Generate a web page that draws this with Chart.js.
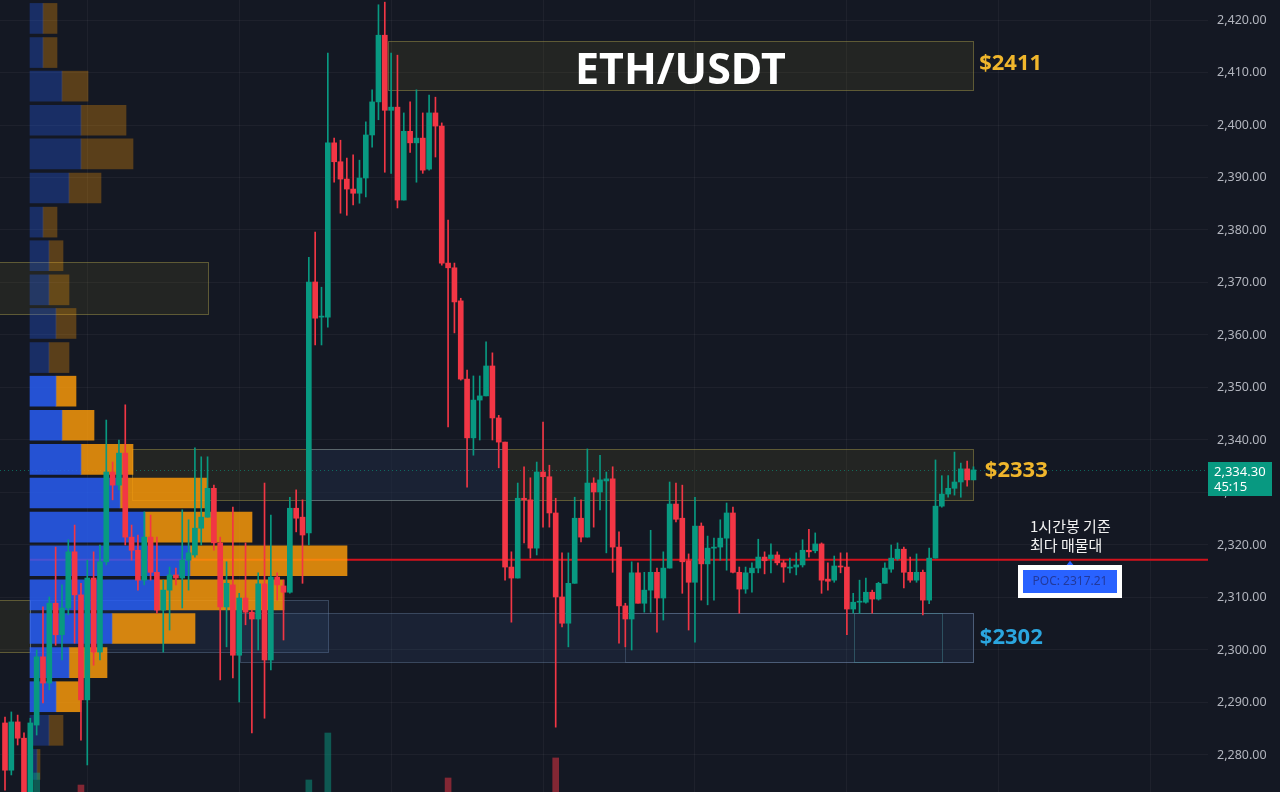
<!DOCTYPE html>
<html>
<head>
<meta charset="utf-8">
<script src="https://cdn.jsdelivr.net/npm/chart.js@4.4.1/dist/chart.umd.min.js"></script>
<style>
  html, body { margin: 0; padding: 0; background: #141823; overflow: hidden; }
  canvas { display: block; }
</style>
</head>
<body>
<canvas id="ethChart" width="1280" height="792"></canvas>
<script>
// 1h candles, ETH/USDT
const opens = [
  2286.1, 2277.1, 2286.3, 2283.2, 2271.8, 2285.7, 2298.7, 2293.7, 2308.9, 2302.9,
  2308.0, 2318.7, 2310.5, 2290.5, 2313.7, 2299.6, 2316.8, 2333.9, 2331.4, 2337.5,
  2321.5, 2319.0, 2313.3, 2321.5, 2314.8, 2307.6, 2311.4, 2314.3, 2313.7, 2317.1,
  2318.1, 2323.2, 2325.3, 2330.8, 2320.4, 2308.2, 2312.4, 2299.0, 2309.9, 2307.2,
  2305.9, 2312.6, 2298.1, 2313.9, 2312.2, 2311.0, 2327.0, 2325.3, 2322.3, 2370.1,
  2363.4, 2363.4, 2396.6, 2393.0, 2389.7, 2387.8, 2387.0, 2389.9, 2398.1, 2404.4,
  2417.1, 2402.8, 2403.4, 2385.7, 2398.8, 2396.6, 2397.5, 2391.6, 2402.3, 2399.8,
  2373.7, 2372.8, 2366.5, 2351.6, 2340.4, 2347.6, 2348.4, 2354.1, 2344.2, 2339.6,
  2315.8, 2313.7, 2328.9, 2328.6, 2319.4, 2333.9, 2333.0, 2326.1, 2310.1, 2305.1,
  2312.7, 2325.1, 2321.5, 2331.8, 2330.1, 2332.2, 2332.6, 2319.6, 2308.4, 2305.9,
  2314.7, 2308.9, 2311.4, 2314.8, 2309.9, 2315.6, 2327.8, 2325.1, 2317.0, 2312.9,
  2323.6, 2316.4, 2319.4, 2319.6, 2321.3, 2326.1, 2314.8, 2311.6, 2314.7, 2315.6,
  2317.7, 2317.4, 2318.1, 2316.6, 2315.6, 2315.8, 2316.2, 2319.0, 2318.9, 2320.2,
  2313.5, 2313.3, 2316.0, 2315.8, 2307.8, 2309.1, 2309.1, 2311.0, 2309.7, 2312.7,
  2315.4, 2317.4, 2319.2, 2314.8, 2313.3, 2314.8, 2309.5, 2317.5, 2327.4, 2329.7,
  2330.8, 2332.0, 2334.5, 2332.4
];
const highs = [
  2287.2, 2288.2, 2287.6, 2284.2, 2287.0, 2300.0, 2308.2, 2310.1, 2319.6, 2312.4,
  2321.0, 2323.8, 2312.7, 2317.1, 2318.7, 2320.0, 2343.8, 2335.8, 2340.0, 2346.7,
  2323.8, 2321.9, 2326.3, 2325.7, 2321.5, 2313.3, 2315.8, 2315.6, 2326.7, 2324.8,
  2338.5, 2336.8, 2336.8, 2331.4, 2321.5, 2316.8, 2327.2, 2310.8, 2320.4, 2307.6,
  2314.7, 2331.8, 2325.7, 2314.7, 2313.3, 2329.1, 2330.5, 2328.6, 2374.8, 2379.6,
  2369.1, 2413.7, 2397.5, 2397.1, 2393.7, 2394.3, 2393.3, 2400.6, 2406.7, 2422.9,
  2423.4, 2413.7, 2413.3, 2402.3, 2404.4, 2406.7, 2402.3, 2405.7, 2405.3, 2400.4,
  2381.9, 2373.7, 2367.0, 2353.3, 2352.2, 2352.2, 2358.7, 2356.6, 2344.7, 2339.6,
  2318.7, 2331.8, 2334.9, 2332.8, 2335.8, 2343.4, 2335.2, 2328.9, 2318.5, 2318.5,
  2329.1, 2328.6, 2338.3, 2332.8, 2337.1, 2333.9, 2334.9, 2322.5, 2308.9, 2316.8,
  2316.6, 2314.8, 2322.8, 2315.6, 2318.7, 2332.0, 2331.8, 2331.4, 2318.3, 2329.1,
  2324.2, 2321.7, 2321.3, 2324.8, 2328.0, 2327.2, 2315.8, 2315.8, 2316.6, 2321.1,
  2318.7, 2320.2, 2318.7, 2317.1, 2317.5, 2318.5, 2321.0, 2323.0, 2322.3, 2320.4,
  2316.6, 2317.9, 2318.5, 2318.5, 2310.8, 2313.3, 2313.7, 2311.4, 2312.9, 2316.6,
  2320.0, 2320.4, 2319.6, 2317.7, 2318.3, 2315.2, 2319.4, 2336.2, 2333.2, 2333.2,
  2337.7, 2335.6, 2336.0, 2334.9
];
const lows = [
  2273.3, 2276.2, 2281.9, 2270.5, 2270.5, 2283.8, 2289.9, 2292.4, 2300.9, 2298.1,
  2306.7, 2301.3, 2282.8, 2278.1, 2297.1, 2298.1, 2316.2, 2328.6, 2330.5, 2320.0,
  2317.1, 2311.4, 2312.4, 2313.3, 2307.0, 2299.6, 2303.8, 2312.4, 2308.0, 2311.4,
  2317.7, 2320.0, 2325.3, 2319.0, 2294.3, 2300.6, 2294.7, 2290.1, 2304.8, 2284.2,
  2300.0, 2287.0, 2296.2, 2309.5, 2301.9, 2310.8, 2322.5, 2312.7, 2320.0, 2358.1,
  2358.1, 2361.5, 2389.1, 2383.2, 2382.8, 2384.8, 2385.1, 2386.3, 2395.8, 2401.0,
  2391.0, 2390.8, 2384.2, 2385.7, 2394.8, 2389.1, 2390.8, 2391.4, 2393.9, 2373.3,
  2342.5, 2360.4, 2351.4, 2331.0, 2337.1, 2340.0, 2348.4, 2340.0, 2334.7, 2313.3,
  2305.3, 2313.7, 2320.4, 2317.5, 2318.1, 2323.4, 2323.4, 2285.3, 2304.4, 2300.6,
  2312.7, 2320.6, 2321.5, 2323.4, 2326.7, 2318.5, 2314.8, 2301.3, 2300.6, 2300.0,
  2308.9, 2307.2, 2307.2, 2303.4, 2305.7, 2315.6, 2324.4, 2310.8, 2303.8, 2301.5,
  2309.5, 2308.6, 2309.5, 2317.1, 2315.2, 2314.7, 2307.0, 2310.8, 2311.0, 2314.7,
  2314.5, 2314.7, 2316.2, 2312.9, 2314.7, 2314.3, 2315.8, 2317.7, 2318.5, 2310.8,
  2311.4, 2312.9, 2314.7, 2302.9, 2307.0, 2307.0, 2308.9, 2307.0, 2309.5, 2312.7,
  2314.8, 2317.1, 2311.8, 2312.9, 2312.9, 2306.7, 2308.8, 2317.5, 2327.2, 2329.1,
  2329.5, 2329.1, 2331.2, 2332.4
];
const closes = [
  2277.1, 2286.3, 2283.2, 2271.8, 2286.1, 2298.7, 2293.7, 2308.9, 2302.9, 2308.0,
  2318.7, 2310.5, 2290.5, 2313.7, 2299.6, 2316.8, 2333.9, 2331.4, 2337.5, 2321.5,
  2319.0, 2313.3, 2321.5, 2314.8, 2307.6, 2311.4, 2314.3, 2313.7, 2317.1, 2318.5,
  2323.2, 2325.3, 2330.8, 2320.4, 2308.2, 2312.7, 2299.0, 2309.9, 2307.2, 2305.9,
  2312.6, 2298.1, 2313.9, 2312.4, 2311.0, 2327.0, 2325.1, 2321.9, 2370.1, 2363.2,
  2363.6, 2396.6, 2393.0, 2389.7, 2387.8, 2387.0, 2389.9, 2398.1, 2404.4, 2417.1,
  2402.8, 2403.4, 2385.7, 2398.8, 2396.6, 2397.5, 2391.4, 2402.3, 2399.8, 2373.7,
  2372.8, 2366.3, 2351.6, 2340.4, 2347.6, 2348.4, 2354.1, 2344.2, 2339.6, 2315.8,
  2313.7, 2328.9, 2328.6, 2319.4, 2333.9, 2333.0, 2326.1, 2310.1, 2305.1, 2312.7,
  2325.1, 2321.5, 2331.8, 2330.1, 2332.4, 2332.6, 2319.6, 2308.4, 2305.9, 2314.7,
  2308.9, 2311.4, 2314.8, 2309.9, 2315.6, 2327.8, 2324.9, 2316.8, 2312.9, 2323.6,
  2316.4, 2319.4, 2319.6, 2321.3, 2326.1, 2314.8, 2311.6, 2314.7, 2315.6, 2317.7,
  2317.0, 2318.1, 2316.6, 2315.8, 2315.8, 2316.2, 2319.0, 2318.7, 2320.2, 2313.3,
  2313.1, 2316.0, 2315.8, 2307.8, 2309.1, 2309.3, 2311.0, 2309.7, 2312.7, 2315.6,
  2317.5, 2319.2, 2314.8, 2313.3, 2314.8, 2309.5, 2317.5, 2327.4, 2329.7, 2330.8,
  2332.0, 2334.5, 2332.4, 2334.3
];

// volume profile rows (row centre price, buy / sell volume)
const vpPrice = [2420.3, 2413.8, 2407.4, 2400.9, 2394.5, 2388.0, 2381.5, 2375.1, 2368.6, 2362.2, 2355.7, 2349.3,
  2342.8, 2336.3, 2329.9, 2323.4, 2317.0, 2310.5, 2304.1, 2297.6, 2291.1, 2284.7, 2278.2];
const vpBuy = [1.3, 1.3, 3.2, 5.1, 5.1, 3.9, 1.3, 1.9, 1.9, 2.6, 1.9, 2.6,
  3.2, 5.1, 9.0, 11.5, 16.0, 12.7, 8.2, 3.9, 2.6, 1.9, 0.7];
const vpSell = [1.4, 1.4, 2.6, 4.5, 5.2, 3.2, 1.4, 1.4, 2.0, 2.0, 2.0, 2.0,
  3.2, 5.2, 8.7, 10.7, 15.7, 12.7, 8.3, 3.8, 2.5, 1.4, 0.3];
const vpValueArea = [false, false, false, false, false, false, false, false, false, false, false, true,
  true, true, true, true, true, true, true, true, true, false, false];

// volume bars that reach into view at the bottom
const volIndex = [5, 12, 48, 51, 70, 87];
const volValue = [24, 8.8, 15.2, 74.5, 17.7, 43];

const pocPrice = 2317.21;
const lastPrice = 2334.30;
const countdown = "45:15";
const gridIndex = [13, 37, 61, 85, 109, 133, 157, 181];

const zones = [
  { from: 60.5, to: 152.9, high: 2416.0, low: 2406.7, kind: "supply" },
  { from: -1, to: 32.1, high: 2373.9, low: 2364.0, kind: "supply" },
  { from: 20.1, to: 152.9, high: 2338.3, low: 2328.6, kind: "supply" },
  { from: 47.7, to: 79.0, high: 2338.3, low: 2328.6, kind: "demandSolid" },
  { from: -1, to: 3.9, high: 2309.5, low: 2299.6, kind: "supply" },
  { from: 3.9, to: 51.0, high: 2309.5, low: 2299.6, kind: "demand" },
  { from: 37.1, to: 152.9, high: 2307.0, low: 2297.7, kind: "demand" },
  { from: 97.9, to: 152.9, high: 2307.0, low: 2297.7, kind: "frame" },
  { from: 134.1, to: 148.0, high: 2307.0, low: 2297.7, kind: "frameTeal" },
];
const levelLabels = [
  { text: "$2411", price: 2411.6, at: 153.9, color: "#f0b62c" },
  { text: "$2333", price: 2334.1, at: 154.8, color: "#f0b62c" },
  { text: "$2302", price: 2302.4, at: 154.0, color: "#2ba6df" },
];
const pocLabelAt = 168.25;

const UP = "#089981";
const DOWN = "#f23645";
const zoneStyles = {
  supply: { fill: "rgba(160,150,40,0.11)", line: "rgba(150,140,70,0.55)" },
  demand: { fill: "rgba(70,110,170,0.13)", line: "rgba(110,135,170,0.40)" },
  demandSolid: { fill: "rgba(17,31,69,0.5)", line: "rgba(110,135,170,0.45)" },
  frame: { fill: null, line: "rgba(110,135,170,0.35)" },
  frameTeal: { fill: null, line: "rgba(70,140,150,0.45)" },
};

const candleColors = opens.map((o, i) => (closes[i] >= o ? UP : DOWN));

const overlayPlugin = {
  id: "overlays",
  beforeDatasetsDraw(chart) {
    const { ctx, chartArea: a } = chart;
    const { x, y, xv } = chart.scales;
    ctx.save();
    ctx.beginPath();
    ctx.rect(a.left, a.top, a.width, a.height);
    ctx.clip();
    zones.forEach((z) => {
      const st = zoneStyles[z.kind];
      const x0 = Math.round(x.getPixelForValue(z.from)) + 0.5;
      const x1 = Math.round(x.getPixelForValue(z.to)) + 0.5;
      const y0 = Math.round(y.getPixelForValue(z.high)) + 0.5;
      const y1 = Math.round(y.getPixelForValue(z.low)) + 0.5;
      if (st.fill) {
        ctx.fillStyle = st.fill;
        ctx.fillRect(x0, y0, x1 - x0, y1 - y0);
      }
      ctx.strokeStyle = st.line;
      ctx.lineWidth = 1;
      ctx.strokeRect(x0, y0, x1 - x0, y1 - y0);
    });
    // last price line
    const py = Math.round(y.getPixelForValue(lastPrice)) + 0.5;
    ctx.setLineDash([1, 3]);
    ctx.strokeStyle = "rgba(8,153,129,0.6)";
    ctx.beginPath();
    ctx.moveTo(a.left, py);
    ctx.lineTo(a.right, py);
    ctx.stroke();
    ctx.setLineDash([]);
    // point of control
    const pp = y.getPixelForValue(pocPrice);
    ctx.strokeStyle = "#d3121c";
    ctx.lineWidth = 2;
    ctx.beginPath();
    ctx.moveTo(xv.getPixelForValue(0), pp);
    ctx.lineTo(a.right, pp);
    ctx.stroke();
    ctx.restore();
  },
  afterDatasetsDraw(chart) {
    const { ctx } = chart;
    const { x, y } = chart.scales;
    ctx.save();
    // title inside the top zone
    const top = zones[0];
    const cx = (x.getPixelForValue(top.from) + x.getPixelForValue(top.to)) / 2;
    const cy = (y.getPixelForValue(top.high) + y.getPixelForValue(top.low)) / 2;
    ctx.fillStyle = "#ffffff";
    ctx.font = 'bold 43px "Noto Sans"';
    ctx.textAlign = "center";
    ctx.textBaseline = "alphabetic";
    ctx.fillText("ETH/USDT", cx, cy + 19);

    ctx.font = 'bold 22px "Noto Sans"';
    ctx.textAlign = "left";
    ctx.textBaseline = "middle";
    levelLabels.forEach((l) => {
      ctx.fillStyle = l.color;
      ctx.fillText(l.text, x.getPixelForValue(l.at), y.getPixelForValue(l.price));
    });

    // POC note
    const px = x.getPixelForValue(pocLabelAt);
    const pp = y.getPixelForValue(pocPrice);
    ctx.fillStyle = "#f2f2f2";
    ctx.font = '15px "Noto Sans CJK KR"';
    ctx.fillText("1시간봉 기준", px - 40, pp - 33);
    ctx.fillText("최다 매물대", px - 40, pp - 14);

    ctx.fillStyle = "#2962ff";
    ctx.beginPath();
    ctx.moveTo(px, pp + 1);
    ctx.lineTo(px - 4, pp + 6);
    ctx.lineTo(px + 4, pp + 6);
    ctx.closePath();
    ctx.fill();

    ctx.fillStyle = "#ffffff";
    ctx.fillRect(Math.round(px - 52), Math.round(pp + 5), 104, 33);
    ctx.fillStyle = "#2962ff";
    ctx.fillRect(Math.round(px - 47), Math.round(pp + 10), 94, 23);
    ctx.fillStyle = "#22399b";
    ctx.font = '12px "Noto Sans"';
    ctx.textAlign = "center";
    ctx.fillText("POC: " + pocPrice.toFixed(2), px, pp + 22);
    ctx.restore();
  },
  afterDraw(chart) {
    const { ctx, chartArea: a } = chart;
    const py = chart.scales.y.getPixelForValue(lastPrice);
    ctx.save();
    ctx.fillStyle = UP;
    ctx.fillRect(a.right, Math.round(py - 8), 64, 34);
    ctx.fillStyle = "#ffffff";
    ctx.font = '13px "Noto Sans"';
    ctx.textAlign = "left";
    ctx.textBaseline = "middle";
    ctx.fillText(lastPrice.toLocaleString("en-US", { minimumFractionDigits: 2 }), a.right + 6, py + 2);
    ctx.fillText(countdown, a.right + 6, py + 17);
    ctx.restore();
  },
};

Chart.defaults.font.family = '"Noto Sans"';

const config = {
  type: "bar",
  data: {
    datasets: [
      {
        label: "bodies",
        data: opens.map((o, i) => ({ x: i, y: [o, closes[i]] })),
        backgroundColor: candleColors,
        barThickness: 5,
        maxBarThickness: 5,
        minBarLength: 1,
        grouped: false,
        order: 1,
      },
      {
        label: "wicks",
        data: lows.map((l, i) => ({ x: i, y: [l, highs[i]] })),
        backgroundColor: candleColors,
        barThickness: 1,
        maxBarThickness: 1,
        grouped: false,
        order: 2,
      },
      {
        label: "volume",
        data: volIndex.map((idx, k) => ({ x: idx, y: volValue[k] })),
        backgroundColor: volIndex.map((idx) => (closes[idx] >= opens[idx] ? "rgba(8,153,129,0.5)" : "rgba(242,54,69,0.5)")),
        yAxisID: "yvol",
        barThickness: 6,
        maxBarThickness: 6,
        grouped: false,
        order: 4,
      },
      {
        label: "vp buy",
        indexAxis: "y",
        xAxisID: "xv",
        yAxisID: "yv",
        stack: "vp",
        data: vpPrice.map((p, i) => ({ x: vpBuy[i], y: p })),
        backgroundColor: vpValueArea.map((v) => (v ? "rgba(41,98,255,0.8)" : "rgba(41,98,255,0.3)")),
        barThickness: 30,
        maxBarThickness: 30,
        grouped: false,
        order: 5,
      },
      {
        label: "vp sell",
        indexAxis: "y",
        xAxisID: "xv",
        yAxisID: "yv",
        stack: "vp",
        data: vpPrice.map((p, i) => ({ x: vpSell[i], y: p })),
        backgroundColor: vpValueArea.map((v) => (v ? "rgba(255,156,8,0.82)" : "rgba(255,156,8,0.3)")),
        barThickness: 30,
        maxBarThickness: 30,
        grouped: false,
        order: 5,
      },
    ],
  },
  options: {
    responsive: false,
    animation: false,
    devicePixelRatio: 1,
    events: [],
    layout: { padding: 0 },
    plugins: {
      legend: { display: false },
      tooltip: { enabled: false },
    },
    scales: {
      x: {
        type: "linear",
        offset: false,
        min: -0.79,
        max: 190.05,
        border: { display: false },
        grid: { color: "rgba(255,255,255,0.045)", drawTicks: false, offset: false },
        ticks: { display: false },
        afterBuildTicks: (axis) => {
          axis.ticks = gridIndex.map((v) => ({ value: v }));
        },
        afterFit: (axis) => {
          axis.height = 0;
          axis.paddingLeft = 0;
          axis.paddingRight = 0;
        },
      },
      y: {
        type: "linear",
        position: "right",
        offset: false,
        min: 2272.95,
        max: 2423.81,
        border: { display: false },
        grid: { color: "rgba(255,255,255,0.045)", drawTicks: false, offset: false },
        ticks: {
          stepSize: 10,
          includeBounds: false,
          autoSkip: false,
          padding: 9,
          color: "#b2b5be",
          font: { size: 12.5 },
          callback: (v) => v.toLocaleString("en-US", { minimumFractionDigits: 2, maximumFractionDigits: 2 }),
        },
        afterFit: (axis) => {
          axis.width = 72;
          axis.paddingTop = 0;
          axis.paddingBottom = 0;
        },
      },
      yv: { type: "linear", display: false, offset: false, min: 2272.95, max: 2423.81, grid: { offset: false } },
      xv: { type: "linear", display: false, offset: false, min: -3, max: 117.8, stacked: true },
      yvol: { type: "linear", display: false, offset: false, min: 0, max: 1000 },
    },
  },
  plugins: [overlayPlugin],
};

const ethChart = new Chart(document.getElementById("ethChart"), config);
</script>
</body>
</html>
